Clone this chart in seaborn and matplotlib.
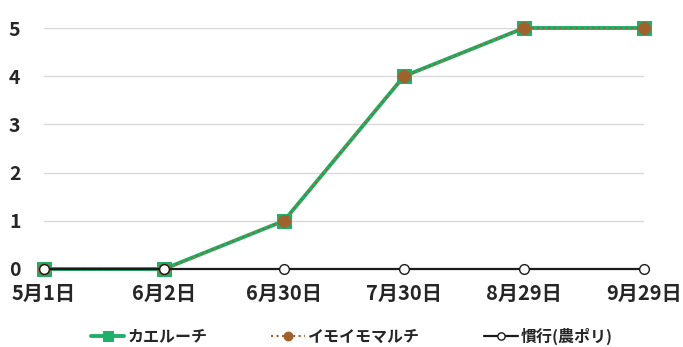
import matplotlib
matplotlib.use("Agg")
import matplotlib.pyplot as plt
import seaborn as sns

sns.set_theme(style="white")
plt.rcParams['font.family'] = ['Noto Sans CJK JP', 'DejaVu Sans']

dates = ["5月1日", "6月2日", "6月30日", "7月30日", "8月29日", "9月29日"]
kaeru = [0, 0, 1, 4, 5, 5]
imoimo = [0, 0, 1, 4, 5, 5]
kanko = [0, 0, 0, 0, 0, 0]
series_names = ["カエルーチ", "イモイモマルチ", "慣行(農ポリ)"]

pos = list(range(len(dates)))

fig = plt.figure(figsize=(6.83, 3.47), dpi=100)
ax = fig.add_axes([44 / 683, 1 - 269 / 347, 600 / 683, 241 / 347])

sns.lineplot(x=pos, y=kaeru, ax=ax, color="#1FAF68", lw=2.8, marker="s",
             markersize=10, markeredgecolor="#1FAF68", markerfacecolor="#1FAF68",
             label=series_names[0], clip_on=False, zorder=3)
sns.lineplot(x=pos, y=imoimo, ax=ax, color="#A0622D", lw=1.5, linestyle=":",
             marker="o", markersize=8.5, markeredgecolor="#A0622D",
             markerfacecolor="#A0622D", label=series_names[1], clip_on=False, zorder=4)
sns.lineplot(x=pos, y=kanko, ax=ax, color="#1a1a1a", lw=1.6, marker="o",
             markersize=7, markeredgecolor="#1a1a1a", markerfacecolor="white",
             markeredgewidth=1.0, label=series_names[2], clip_on=False, zorder=5)

ax.set_xlim(0, len(dates) - 1)
ax.set_ylim(0, 5)
ax.set_xticks(pos)
ax.set_xticklabels(dates, fontsize=14.5, fontweight="bold")
ax.set_yticks(range(6))
ax.set_yticklabels([str(v) for v in range(6)], fontsize=14, fontweight="bold")
ax.tick_params(axis="y", pad=17, length=0)
ax.tick_params(axis="x", pad=10, length=0)
ax.grid(axis="y", color="#d9d9d9", lw=1)
ax.grid(axis="x", visible=False)
for s in ax.spines.values():
    s.set_visible(False)

ax.get_legend().remove()
handles, labels = ax.get_legend_handles_labels()
fig.legend(handles, labels, loc="center", bbox_to_anchor=(0.515, 1 - 336 / 347),
           ncol=3, frameon=False, prop={"size": 11.5, "weight": "bold"},
           handlelength=2.1, columnspacing=4.0, handletextpad=0.2, markerscale=0.75)

fig.savefig("out.png", dpi=100)
